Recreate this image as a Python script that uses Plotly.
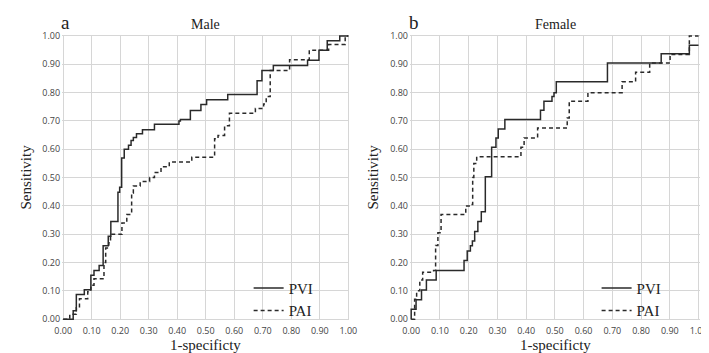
import plotly.graph_objects as go

# ---- data (ROC step vertices: fpr, sensitivity) ----
male_pvi_fpr = [0, 0.035, 0.046, 0.074, 0.097, 0.108, 0.126, 0.140, 0.158, 0.167, 0.192, 0.198, 0.205,
                0.214, 0.229, 0.238, 0.246, 0.257, 0.278, 0.320, 0.406, 0.411, 0.446, 0.483, 0.503,
                0.577, 0.680, 0.697, 0.737, 0.857, 0.897, 0.926, 0.970, 1.0]
male_pvi_sens = [0, 0.030, 0.087, 0.104, 0.155, 0.172, 0.190, 0.259, 0.293, 0.345, 0.448, 0.466, 0.569,
                 0.600, 0.614, 0.631, 0.642, 0.655, 0.669, 0.688, 0.700, 0.705, 0.737, 0.758, 0.775,
                 0.793, 0.842, 0.878, 0.896, 0.914, 0.950, 0.983, 1.0, 1.0]

male_pai_fpr = [0, 0.023, 0.046, 0.057, 0.086, 0.097, 0.108, 0.143, 0.149, 0.160, 0.166, 0.206, 0.223,
                0.240, 0.246, 0.270, 0.303, 0.320, 0.343, 0.372, 0.451, 0.531, 0.543, 0.566, 0.583,
                0.674, 0.703, 0.712, 0.726, 0.794, 0.863, 0.931, 0.989, 1.0]
male_pai_sens = [0, 0.017, 0.040, 0.072, 0.097, 0.120, 0.143, 0.200, 0.251, 0.270, 0.300, 0.340, 0.370,
                 0.446, 0.470, 0.486, 0.500, 0.518, 0.538, 0.555, 0.572, 0.637, 0.649, 0.683, 0.727,
                 0.744, 0.760, 0.786, 0.878, 0.916, 0.950, 0.970, 1.0, 1.0]

female_pvi_fpr = [0, 0, 0.017, 0.036, 0.053, 0.087, 0.184, 0.195, 0.206, 0.213, 0.221, 0.232, 0.244,
                  0.258, 0.280, 0.295, 0.303, 0.326, 0.450, 0.462, 0.490, 0.497, 0.505, 0.683, 0.870,
                  0.968, 1.0]
female_pvi_sens = [0, 0.035, 0.069, 0.103, 0.138, 0.172, 0.207, 0.241, 0.259, 0.276, 0.310, 0.345, 0.379,
                   0.503, 0.607, 0.640, 0.672, 0.705, 0.738, 0.770, 0.786, 0.800, 0.838, 0.905, 0.937,
                   0.967, 0.967]

female_pai_fpr = [0, 0.012, 0.019, 0.030, 0.040, 0.078, 0.085, 0.093, 0.104, 0.190, 0.206, 0.214, 0.218,
                  0.228, 0.382, 0.393, 0.440, 0.543, 0.550, 0.615, 0.734, 0.781, 0.830, 0.901, 0.968, 1.0]
female_pai_sens = [0, 0.070, 0.100, 0.138, 0.166, 0.172, 0.260, 0.305, 0.370, 0.400, 0.405, 0.500, 0.550,
                   0.574, 0.607, 0.640, 0.675, 0.710, 0.770, 0.800, 0.838, 0.872, 0.905, 0.935, 1.0, 1.0]

tick_vals = [i / 10 for i in range(11)]
tick_text = ["%.2f" % v for v in tick_vals]

# ---- layout geometry ----
W, H = 709, 353
pad = 0.004
def xdom(p0, p1):
    s = p1 - p0
    return [(p0 - pad * s) / W, (p1 + pad * s) / W]
y0px, y1px = 315.0, 22.7
sy = y0px - y1px
ydom = [(H - (y0px + pad * sy)) / H, (H - (y1px - pad * sy)) / H]

line_col = "#2a2a2a"
serif = "Liberation Serif, Times New Roman, serif"
sans = "Open Sans, Liberation Sans, sans-serif"

fig = go.Figure()
fig.add_trace(go.Scatter(x=male_pvi_fpr, y=male_pvi_sens, mode="lines", line_shape="hv",
                         line=dict(color=line_col, width=1.5), name="PVI",
                         xaxis="x", yaxis="y", legend="legend"))
fig.add_trace(go.Scatter(x=male_pai_fpr, y=male_pai_sens, mode="lines", line_shape="hv",
                         line=dict(color=line_col, width=1.5, dash="4px,3px"), name="PAI",
                         xaxis="x", yaxis="y", legend="legend"))
fig.add_trace(go.Scatter(x=female_pvi_fpr, y=female_pvi_sens, mode="lines", line_shape="hv",
                         line=dict(color=line_col, width=1.5), name="PVI",
                         xaxis="x2", yaxis="y2", legend="legend2"))
fig.add_trace(go.Scatter(x=female_pai_fpr, y=female_pai_sens, mode="lines", line_shape="hv",
                         line=dict(color=line_col, width=1.5, dash="4px,3px"), name="PAI",
                         xaxis="x2", yaxis="y2", legend="legend2"))

axis_common = dict(range=[-pad, 1 + pad], tickvals=tick_vals, ticktext=tick_text,
                   showgrid=True, gridcolor="#d6d6d6", gridwidth=1, zeroline=False,
                   showline=False, ticks="", tickfont=dict(family=sans, size=9, color="#444"))

fig.update_layout(
    width=W, height=H, margin=dict(l=0, r=0, t=0, b=0),
    paper_bgcolor="white", plot_bgcolor="white",
    xaxis=dict(domain=xdom(48.3, 340.0), anchor="y", ticklabelstandoff=4, **axis_common),
    yaxis=dict(domain=ydom, anchor="x", ticklabelstandoff=1, **axis_common),
    xaxis2=dict(domain=xdom(404.3, 698.3), anchor="y2", ticklabelstandoff=4, **axis_common),
    yaxis2=dict(domain=ydom, anchor="x2", ticklabelstandoff=1, **axis_common),
    legend=dict(x=238 / W, y=1 - 266 / H, xanchor="left", yanchor="top",
                font=dict(family=serif, size=15, color="#222"), bgcolor="rgba(0,0,0,0)",
                tracegroupgap=0, itemwidth=30),
    legend2=dict(x=594 / W, y=1 - 266 / H, xanchor="left", yanchor="top",
                 font=dict(family=serif, size=15, color="#222"), bgcolor="rgba(0,0,0,0)",
                 tracegroupgap=0, itemwidth=30),
    showlegend=True,
)

def ann(text, px, py, size, angle=0, xanchor="center"):
    fig.add_annotation(text=text, x=px / W, y=1 - py / H, xref="paper", yref="paper",
                       showarrow=False, xanchor=xanchor, yanchor="middle", textangle=angle,
                       font=dict(family=serif, size=size, color="#222"))

ann("a", 44, 9, 19, xanchor="left")
ann("Male", 194, 11, 14)
ann("b", 400, 9, 19, xanchor="left")
ann("Female", 552, 11, 14)
ann("Sensitivity", 10, 168, 15, angle=-90)
ann("Sensitivity", 365, 168, 15, angle=-90)
ann("1-specificty", 194, 342, 15)
ann("1-specificty", 552, 342, 15)

fig.write_html("out.html")
